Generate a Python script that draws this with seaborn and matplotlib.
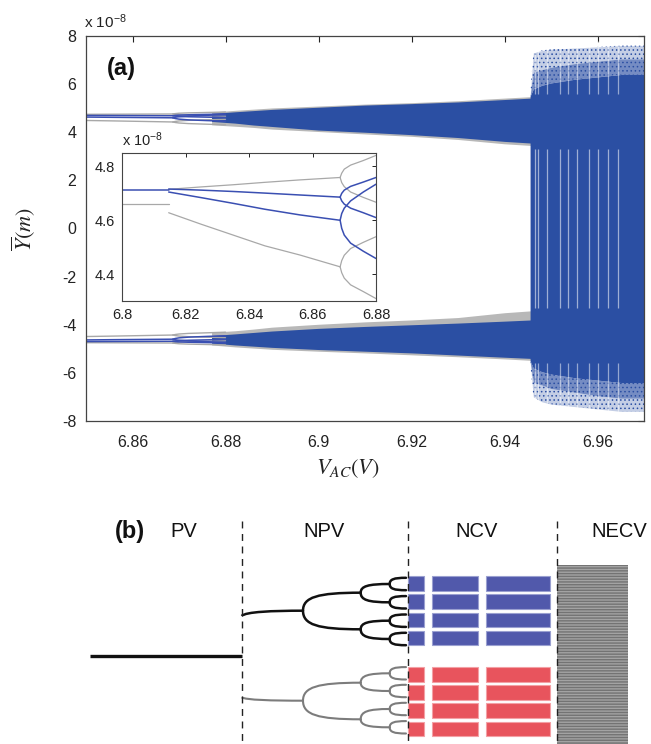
import numpy as np
import pandas as pd
import matplotlib
matplotlib.use("Agg")
import matplotlib.pyplot as plt
import seaborn as sns
from matplotlib.path import Path
from matplotlib.patches import PathPatch

# ------------------------------------------------------------------
# DATA  panel (a): displacement values in units of 1e-8 m
# ------------------------------------------------------------------
# upper attractor, periodic branches
p1_x = [6.800, 6.8147]
p1_blue = [4.714, 4.714]
p1_gray = [4.661, 4.661]

p2_x = [6.8147, 6.825, 6.835, 6.845, 6.856, 6.8687]
p2_blue_a = [4.716, 4.712, 4.707, 4.701, 4.694, 4.686]
p2_blue_b = [4.705, 4.684, 4.663, 4.641, 4.620, 4.600]
p2_gray_a = [4.715, 4.724, 4.732, 4.741, 4.750, 4.759]
p2_gray_b = [4.628, 4.585, 4.545, 4.505, 4.471, 4.427]

p4_x = [6.8687, 6.8692, 6.8700, 6.8720, 6.8760, 6.8800]
p4_blue_1 = [4.686, 4.700, 4.712, 4.726, 4.742, 4.759]
p4_blue_2 = [4.686, 4.672, 4.660, 4.645, 4.628, 4.610]
p4_blue_3 = [4.600, 4.625, 4.645, 4.672, 4.705, 4.734]
p4_blue_4 = [4.600, 4.570, 4.545, 4.515, 4.485, 4.458]
p4_gray_1 = [4.759, 4.775, 4.790, 4.805, 4.822, 4.841]
p4_gray_2 = [4.759, 4.740, 4.725, 4.705, 4.685, 4.667]
p4_gray_3 = [4.427, 4.450, 4.470, 4.495, 4.518, 4.539]
p4_gray_4 = [4.427, 4.405, 4.385, 4.360, 4.335, 4.309]

# lower attractor, periodic branches (main panel)
lp2_x = [6.845, 6.856, 6.8687]
lp2_blue_a = [-4.701, -4.694, -4.686]
lp2_blue_b = [-4.641, -4.620, -4.600]
lp2_gray_a = [-4.741, -4.750, -4.759]
lp2_gray_b = [-4.505, -4.471, -4.427]
lp4_blue_1 = [-4.686, -4.700, -4.712, -4.726, -4.742, -4.759]
lp4_blue_2 = [-4.686, -4.672, -4.660, -4.645, -4.628, -4.610]
lp4_blue_3 = [-4.600, -4.625, -4.645, -4.672, -4.705, -4.734]
lp4_blue_4 = [-4.600, -4.570, -4.545, -4.515, -4.485, -4.458]
lp4_gray_1 = [-4.759, -4.775, -4.790, -4.805, -4.822, -4.841]
lp4_gray_2 = [-4.759, -4.740, -4.725, -4.705, -4.685, -4.667]
lp4_gray_3 = [-4.427, -4.450, -4.470, -4.495, -4.518, -4.539]
lp4_gray_4 = [-4.427, -4.405, -4.385, -4.360, -4.335, -4.309]

# dense (period-doubled / chaotic) bands before the crisis
band_x = [6.877, 6.882, 6.886, 6.890, 6.900, 6.910, 6.920, 6.930, 6.940, 6.9458]
up_top = [4.78, 4.85, 4.90, 4.95, 5.04, 5.13, 5.19, 5.26, 5.36, 5.42]
up_bot = [4.45, 4.38, 4.30, 4.24, 4.09, 4.00, 3.90, 3.78, 3.62, 3.55]
up_gray_top = [4.84, 4.91, 4.96, 5.01, 5.09, 5.17, 5.23, 5.31, 5.42, 5.48]
up_gray_bot = [4.31, 4.25, 4.20, 4.13, 4.03, 3.93, 3.83, 3.70, 3.52, 3.45]
low_top = [-4.45, -4.38, -4.32, -4.26, -4.15, -4.07, -4.00, -3.93, -3.85, -3.80]
low_bot = [-4.76, -4.84, -4.89, -4.94, -5.03, -5.10, -5.17, -5.26, -5.35, -5.40]
low_gray_top = [-4.31, -4.25, -4.18, -4.10, -3.98, -3.88, -3.80, -3.70, -3.50, -3.42]
low_gray_bot = [-4.84, -4.92, -4.97, -5.02, -5.10, -5.17, -5.25, -5.33, -5.42, -5.48]

# chaotic region after the crisis
chaos_x = [6.9455, 6.9462, 6.9480, 6.9500, 6.9550, 6.9600, 6.9650, 6.9700]
chaos_core_top = [5.50, 5.80, 5.95, 6.05, 6.20, 6.30, 6.40, 6.40]
chaos_core_bot = [-5.50, -5.80, -5.95, -6.05, -6.20, -6.30, -6.40, -6.40]
chaos_mid_top = [5.50, 6.50, 6.60, 6.70, 6.85, 6.95, 7.05, 7.05]
chaos_mid_bot = [-5.50, -6.40, -6.50, -6.65, -6.80, -6.95, -7.05, -7.05]
chaos_out_top = [5.50, 7.30, 7.40, 7.45, 7.50, 7.55, 7.60, 7.60]
chaos_out_bot = [-5.50, -7.00, -7.20, -7.30, -7.40, -7.50, -7.60, -7.60]
streak_x = [6.9466, 6.9472, 6.9492, 6.9520, 6.9537, 6.9556, 6.9581, 6.9600, 6.9623, 6.9645]

main_xticks = [6.86, 6.88, 6.90, 6.92, 6.94, 6.96]
main_xticklabels = ["6.86", "6.88", "6.9", "6.92", "6.94", "6.96"]
main_yticks = [-8, -6, -4, -2, 0, 2, 4, 6, 8]
inset_xticks = [6.80, 6.82, 6.84, 6.86, 6.88]
inset_xticklabels = ["6.8", "6.82", "6.84", "6.86", "6.88"]
inset_yticks = [4.4, 4.6, 4.8]

# ------------------------------------------------------------------
# DATA  panel (b): schematic (coordinates in figure pixels)
# ------------------------------------------------------------------
region_labels = ["PV", "NPV", "NCV", "NECV"]
region_label_x = [184, 324, 477, 619]
divider_x = [241.6, 407.5, 556.5]
pv_x = [89.5, 241.6]
pv_y = 656.0
blue_rows = [583.3, 601.7, 620.0, 638.0]
red_rows = [674.7, 692.7, 710.7, 729.0]
col_left = [407.7, 432.3, 486.0]
col_right = [424.3, 478.3, 550.0]
necv_x = [556.5, 628.0]
necv_y = [565.0, 744.0]
tree_level_x = [241.6, 303.0, 360.7, 389.7, 406.0]
black_trunk_y = 616.0
black_node1_y = [610.7]
black_node2_y = [592.7, 629.3]
black_node3_y = [584.0, 602.3, 620.7, 639.0]
gray_trunk_y = 697.3
gray_node1_y = [700.7]
gray_node2_y = [682.7, 719.3]
gray_node3_y = [673.3, 691.0, 709.0, 727.3]
tip_offset = 6.2

# ------------------------------------------------------------------
sns.set_theme(style="white")
plt.rcParams["font.family"] = ["Liberation Sans", "DejaVu Sans"]
plt.rcParams["axes.unicode_minus"] = False
plt.rcParams["mathtext.fontset"] = "stix"
plt.rcParams["hatch.linewidth"] = 0.6

BLUE = "#2b4fa3"
BLUE_LINE = "#3a4fb2"
GRAY_FILL = "#b8b8b8"
GRAY_LINE = "#a8a8a8"

# long-form table of the periodic branches
rows = []
def add(name, xs, ys, kind):
    for xv, yv in zip(xs, ys):
        rows.append(dict(branch=name, x=xv, y=yv, kind=kind))

add("p1b", p1_x, p1_blue, "blue"); add("p1g", p1_x, p1_gray, "gray")
add("p2ba", p2_x, p2_blue_a, "blue"); add("p2bb", p2_x, p2_blue_b, "blue")
add("p2ga", p2_x, p2_gray_a, "gray"); add("p2gb", p2_x, p2_gray_b, "gray")
for i, arr in enumerate([p4_blue_1, p4_blue_2, p4_blue_3, p4_blue_4]):
    add(f"p4b{i}", p4_x, arr, "blue")
for i, arr in enumerate([p4_gray_1, p4_gray_2, p4_gray_3, p4_gray_4]):
    add(f"p4g{i}", p4_x, arr, "gray")
add("lp2ba", lp2_x, lp2_blue_a, "blue"); add("lp2bb", lp2_x, lp2_blue_b, "blue")
add("lp2ga", lp2_x, lp2_gray_a, "gray"); add("lp2gb", lp2_x, lp2_gray_b, "gray")
for i, arr in enumerate([lp4_blue_1, lp4_blue_2, lp4_blue_3, lp4_blue_4]):
    add(f"lp4b{i}", p4_x, arr, "blue")
for i, arr in enumerate([lp4_gray_1, lp4_gray_2, lp4_gray_3, lp4_gray_4]):
    add(f"lp4g{i}", p4_x, arr, "gray")
lines = pd.DataFrame(rows)
gray_lines = lines[lines.kind == "gray"]
blue_lines = lines[lines.kind == "blue"]

fig = plt.figure(figsize=(6.51, 7.44), dpi=100)

# ------------------------------ panel (a)
ax = fig.add_axes([86 / 651, 1 - 421 / 744, 558 / 651, 385 / 744])
ax.fill_between(band_x, up_gray_bot, up_gray_top, color=GRAY_FILL, lw=0)
ax.fill_between(band_x, low_gray_bot, low_gray_top, color=GRAY_FILL, lw=0)
sns.lineplot(data=gray_lines, x="x", y="y", units="branch", estimator=None,
             sort=False, color=GRAY_LINE, lw=1.0, ax=ax, legend=False)
sns.lineplot(data=blue_lines, x="x", y="y", units="branch", estimator=None,
             sort=False, color=BLUE_LINE, lw=1.1, ax=ax, legend=False)
ax.fill_between(band_x, up_bot, up_top, color=BLUE, lw=0)
ax.fill_between(band_x, low_bot, low_top, color=BLUE, lw=0)
ax.fill_between(chaos_x, chaos_core_bot, chaos_core_top, color=BLUE, lw=0)
# scattered outer cloud: denser inner fringe, sparse outer fringe
for lo, hi in [(chaos_core_top, chaos_mid_top), (chaos_mid_bot, chaos_core_bot)]:
    ax.fill_between(chaos_x, lo, hi, color=BLUE, alpha=0.65, lw=0)
for lo, hi in [(chaos_mid_top, chaos_out_top), (chaos_out_bot, chaos_mid_bot)]:
    ax.fill_between(chaos_x, lo, hi, color=BLUE, alpha=0.28, lw=0)
for lo, hi in [(chaos_core_top, chaos_out_top), (chaos_out_bot, chaos_core_bot)]:
    ax.fill_between(chaos_x, lo, hi, facecolor="none", edgecolor=BLUE,
                    hatch="....", lw=0)
ax.vlines(streak_x, -3.3, 3.3, color="white", lw=0.9, alpha=0.55)
ax.vlines(streak_x, 5.6, 7.8, color="white", lw=0.9, alpha=0.5)
ax.vlines(streak_x, -7.8, -5.6, color="white", lw=0.9, alpha=0.5)

ax.set_xlim(6.85, 6.97)
ax.set_ylim(-8, 8)
ax.set_xticks(main_xticks)
ax.set_xticklabels(main_xticklabels)
ax.set_yticks(main_yticks)
ax.set_yticklabels([str(v) for v in main_yticks])
ax.tick_params(direction="in", length=4, width=0.8, top=True, right=True,
               labelsize=11.5, colors="#222222", pad=7)
ax.tick_params(axis="x", pad=10)
for s in ax.spines.values():
    s.set_color("#444444"); s.set_linewidth(0.9)
ax.set_xlabel(r"$V_{AC}(V)$", fontsize=16, color="#222222")
ax.xaxis.set_label_coords(0.47, -0.094)
ax.set_ylabel(r"$\overline{Y}(m)$", fontsize=16, color="#222222")
ax.yaxis.set_label_coords(-0.086, 0.5)
fig.text(84 / 651, 1 - 28 / 744, r"x 10$^{\mathregular{-8}}$", fontsize=11,
         color="#222222", va="baseline")
ax.text(121.7 / 651, 1 - 68 / 744, "(a)", transform=fig.transFigure,
        fontsize=17, fontweight="bold", ha="center", va="center", color="#111111")

# ------------------------------ inset
axin = fig.add_axes([122 / 651, 1 - 301 / 744, 254 / 651, 148 / 744])
axin.set_facecolor("white")
sns.lineplot(data=gray_lines, x="x", y="y", units="branch", estimator=None,
             sort=False, color=GRAY_LINE, lw=0.9, ax=axin, legend=False)
sns.lineplot(data=blue_lines, x="x", y="y", units="branch", estimator=None,
             sort=False, color=BLUE_LINE, lw=1.1, ax=axin, legend=False)
axin.set_xlim(6.80, 6.88)
axin.set_ylim(4.30, 4.85)
axin.set_xticks(inset_xticks)
axin.set_xticklabels(inset_xticklabels)
axin.set_yticks(inset_yticks)
axin.set_yticklabels([f"{v:.1f}" for v in inset_yticks])
axin.set_xlabel(""); axin.set_ylabel("")
axin.tick_params(direction="in", length=3, width=0.7, top=True, right=True,
                 labelsize=10.5, colors="#222222", pad=5)
for s in axin.spines.values():
    s.set_color("#444444"); s.set_linewidth(0.8)
fig.text(122 / 651, 1 - 146 / 744, r"x 10$^{\mathregular{-8}}$", fontsize=10.5,
         color="#222222", va="baseline")

# ------------------------------ panel (b)
axb = fig.add_axes([0, 0, 1, 254 / 744])
axb.set_xlim(0, 651)
axb.set_ylim(744, 490)
axb.axis("off")

axb.text(130, 532, "(b)", fontsize=17, fontweight="bold", ha="center", va="center",
         color="#111111")
for lab, lx in zip(region_labels, region_label_x):
    axb.text(lx, 532, lab, fontsize=14.5, ha="center", va="center", color="#111111")
axb.vlines(divider_x, 521, 744, colors="#222222", lw=1.0, linestyles=(0, (5, 4)))
axb.plot(pv_x, [pv_y, pv_y], color="#111111", lw=2.4, solid_capstyle="butt")

for cl, cr in zip(col_left, col_right):
    axb.barh(blue_rows, cr - cl, left=cl, height=14.6, color="#5159ab",
             edgecolor="#9aa0d0", lw=0.8)
    axb.barh(red_rows, cr - cl, left=cl, height=14.6, color="#e8545d",
             edgecolor="#f3a0a5", lw=0.8)
plt.rcParams["hatch.linewidth"] = 1.0
axb.bar(necv_x[0], necv_y[1] - necv_y[0], width=necv_x[1] - necv_x[0],
        bottom=necv_y[0], align="edge", facecolor="#a3a3a3", edgecolor="#737373",
        hatch="------", lw=0)

def branch(ax_, x0, y0, x1, y1, color, lw):
    dx = x1 - x0
    verts = [(x0, y0), (x0, y0 + 0.75 * (y1 - y0)), (x0 + 0.25 * dx, y1), (x1, y1)]
    codes = [Path.MOVETO, Path.CURVE4, Path.CURVE4, Path.CURVE4]
    ax_.add_patch(PathPatch(Path(verts, codes), fill=False, edgecolor=color,
                            lw=lw, capstyle="round"))

def trunk(ax_, x0, y0, x1, y1, color, lw):
    verts = [(x0, y0), (x0 + 4, y1 + 0.2 * (y0 - y1)), (x0 + 0.5 * (x1 - x0), y1), (x1, y1)]
    codes = [Path.MOVETO, Path.CURVE4, Path.CURVE4, Path.CURVE4]
    ax_.add_patch(PathPatch(Path(verts, codes), fill=False, edgecolor=color, lw=lw))

def tree(trunk_y, n1, n2, n3, color, lw):
    X = tree_level_x
    trunk(axb, X[0], trunk_y, X[1], n1[0], color, lw)
    for yb in n2:
        branch(axb, X[1], n1[0], X[2], yb, color, lw)
    for i, yb in enumerate(n3):
        branch(axb, X[2], n2[i // 2], X[3], yb, color, lw)
    for yb in n3:
        branch(axb, X[3], yb, X[4], yb - tip_offset, color, lw)
        branch(axb, X[3], yb, X[4], yb + tip_offset, color, lw)

tree(black_trunk_y, black_node1_y, black_node2_y, black_node3_y, "#111111", 1.8)
tree(gray_trunk_y, gray_node1_y, gray_node2_y, gray_node3_y, "#7c7c7c", 1.5)

fig.savefig("out.png", dpi=100)
